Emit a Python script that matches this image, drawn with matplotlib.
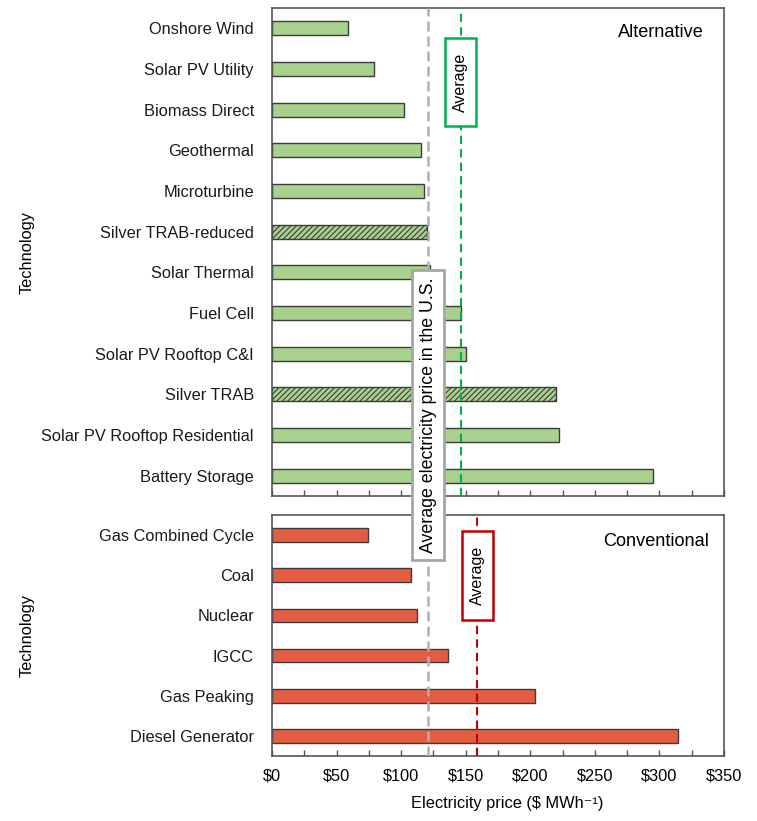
import matplotlib
matplotlib.use("Agg")
import matplotlib.pyplot as plt
import matplotlib.transforms as mtransforms
from matplotlib.patches import Rectangle
from matplotlib.ticker import MultipleLocator, FuncFormatter

plt.rcParams['font.family'] = ['Liberation Sans', 'DejaVu Sans']
plt.rcParams['hatch.linewidth'] = 0.8

alt_labels = ["Onshore Wind", "Solar PV Utility", "Biomass Direct", "Geothermal",
              "Microturbine", "Silver TRAB-reduced", "Solar Thermal", "Fuel Cell",
              "Solar PV Rooftop C&I", "Silver TRAB", "Solar PV Rooftop Residential",
              "Battery Storage"]
alt_values = [59, 79, 102, 115, 118, 120, 122, 146, 150, 220, 222, 295]
alt_hatched = ["Silver TRAB-reduced", "Silver TRAB"]

conv_labels = ["Gas Combined Cycle", "Coal", "Nuclear", "IGCC", "Gas Peaking",
               "Diesel Generator"]
conv_values = [74, 108, 112, 136, 204, 314]

us_avg = 121
alt_avg = 146
conv_avg = 159

x_ticks = [0, 50, 100, 150, 200, 250, 300, 350]

GREEN = "#a9d18e"
RED = "#e35d45"
EDGE = "#3c3c3c"
GREY = "#b0b0b0"
GREEN_LINE = "#00b050"
RED_LINE = "#c00000"

fig = plt.figure(figsize=(7.57, 8.21), dpi=100)
W, H = 757, 821
ax1 = fig.add_axes([272 / W, 1 - 496 / H, 452 / W, 488 / H])
ax2 = fig.add_axes([272 / W, 1 - 756 / H, 452 / W, 241 / H])

FS = 11.8
bar_h = 0.34

def style_axis(ax, n, labels):
    ax.set_xlim(0, 350)
    ax.set_ylim(n - 0.5, -0.5)
    ax.set_yticks(range(n))
    ax.set_yticklabels(labels, fontsize=FS, color="#1a1a1a")
    ax.tick_params(axis='y', length=0, pad=13)
    ax.xaxis.set_major_locator(MultipleLocator(50))
    ax.xaxis.set_minor_locator(MultipleLocator(25))
    ax.tick_params(axis='x', which='both', direction='in', length=4, width=1,
                   color="#555555", labelsize=FS, pad=9)
    for s in ax.spines.values():
        s.set_color("#555555")
        s.set_linewidth(1.2)
    ax.set_ylabel("Technology", fontsize=FS)
    ax.yaxis.set_label_coords(-0.525, 0.5)

def avg_box(ax, xval, ycen_px, height_px, color, axes_h_px):
    trans = mtransforms.blended_transform_factory(ax.transData, ax.transAxes)
    half_w = 15.5 / 1.291
    h = height_px / axes_h_px
    rect = Rectangle((xval - half_w, ycen_px - h / 2), 2 * half_w, h, transform=trans,
                     facecolor='white', edgecolor=color, lw=1.8, zorder=5)
    ax.add_patch(rect)
    ax.text(xval, ycen_px, "Average", transform=trans, rotation=90, ha='center',
            va='center', fontsize=11.5, zorder=6)

# Top panel
for i, (lab, v) in enumerate(zip(alt_labels, alt_values)):
    hatched = lab in alt_hatched
    ax1.barh(i, v, height=bar_h, color=GREEN, edgecolor=EDGE, linewidth=1,
             hatch='//////' if hatched else None, zorder=2)
style_axis(ax1, len(alt_labels), alt_labels)
ax1.tick_params(axis='x', labelbottom=False)
ax1.axvline(us_avg, color=GREY, lw=1.8, dashes=(4, 2), zorder=3)
ax1.axvline(alt_avg, color=GREEN_LINE, lw=1.5, dashes=(4, 2.5), zorder=3)
avg_box(ax1, alt_avg, (496 - 82) / 488, 88, GREEN_LINE, 488)
ax1.text(0.956, 0.949, "Alternative", transform=ax1.transAxes, ha='right', va='center',
         fontsize=FS + 1.3)

# Bottom panel
for i, v in enumerate(conv_values):
    ax2.barh(i, v, height=bar_h, color=RED, edgecolor=EDGE, linewidth=1, zorder=2)
style_axis(ax2, len(conv_labels), conv_labels)
ax2.set_xticks(x_ticks)
ax2.xaxis.set_major_formatter(FuncFormatter(lambda x, p: "\\$%d" % x))
ax2.axvline(us_avg, color=GREY, lw=1.8, dashes=(4, 2), zorder=3)
ax2.axvline(conv_avg, color=RED_LINE, lw=1.5, dashes=(4, 2.5), zorder=3)
avg_box(ax2, conv_avg, (756 - 575.5) / 241, 89, RED_LINE, 241)
ax2.text(0.967, 0.888, "Conventional", transform=ax2.transAxes, ha='right', va='center',
         fontsize=FS + 1.3)
ax2.set_xlabel("Electricity price (\\$ MWh\u207b\u00b9)", fontsize=FS)
ax2.xaxis.set_label_coords(0.52, -0.165)

# US average label spanning both panels
fig.text(us_avg, 1 - 415 / H, "Average electricity price in the U.S.",
         transform=mtransforms.blended_transform_factory(ax1.transData, fig.transFigure),
         rotation=90, ha='center', va='center', fontsize=12.8, zorder=10,
         bbox=dict(boxstyle='square,pad=0.42', fc='white', ec="#a6a6a6", lw=2))

fig.savefig("out.png", dpi=100)
